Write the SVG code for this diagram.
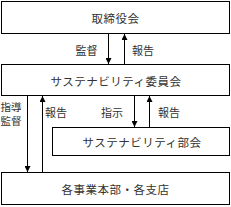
<svg xmlns="http://www.w3.org/2000/svg" width="231" height="207" viewBox="0 0 231 207">
<style>
.box{fill:#fff;stroke:#000;stroke-width:1}
.t{font-family:"Noto Sans CJK JP",sans-serif;font-size:11.5px;fill:#333;text-anchor:middle;dominant-baseline:central}
.l{font-family:"Noto Sans CJK JP",sans-serif;font-size:11px;fill:#333;text-anchor:middle;dominant-baseline:central}
.c{stroke:#000;stroke-width:1;fill:none}
</style>
<defs>
<marker id="ah" viewBox="0 0 6 6" refX="6" refY="3" markerWidth="6" markerHeight="6" markerUnits="userSpaceOnUse" orient="auto">
<path d="M0,0 L6,3 L0,6 Z" fill="#000"/>
</marker>
</defs>
<g id="n1"><rect class="box" x="1.5" y="1.5" width="228" height="32"/><text class="t" x="115.5" y="17.5" style="letter-spacing:0.5px">取締役会</text></g>
<g id="n2"><rect class="box" x="1.5" y="64.5" width="228" height="31"/><text class="t" x="116" y="80.5" style="letter-spacing:0.5px">サステナビリティ委員会</text></g>
<g id="n3"><rect class="box" x="52.5" y="127.5" width="177" height="28"/><text class="t" x="142" y="142" style="letter-spacing:0.5px">サステナビリティ部会</text></g>
<g id="n4"><rect class="box" x="1.5" y="172.5" width="228" height="32"/><text class="t" x="115.5" y="189" style="letter-spacing:0.5px">各事業本部・各支店</text></g>
<g id="connectors">
<line class="c" x1="108.5" y1="34" x2="108.5" y2="64" marker-end="url(#ah)"/>
<line class="c" x1="124.5" y1="64" x2="124.5" y2="34" marker-end="url(#ah)"/>
<line class="c" x1="27.5" y1="96" x2="27.5" y2="172" marker-end="url(#ah)"/>
<line class="c" x1="42.5" y1="172" x2="42.5" y2="96" marker-end="url(#ah)"/>
<line class="c" x1="134.5" y1="96" x2="134.5" y2="127" marker-end="url(#ah)"/>
<line class="c" x1="149.5" y1="127" x2="149.5" y2="96" marker-end="url(#ah)"/>
<text class="l" x="86.5" y="50">監督</text>
<text class="l" x="143" y="50">報告</text>
<text class="l" x="11" y="106" style="font-size:10.5px">指導</text>
<text class="l" x="11" y="120.5" style="font-size:10.5px">監督</text>
<text class="l" x="56" y="112">報告</text>
<text class="l" x="112" y="112">指示</text>
<text class="l" x="169" y="112">報告</text>
</g>
</svg>
